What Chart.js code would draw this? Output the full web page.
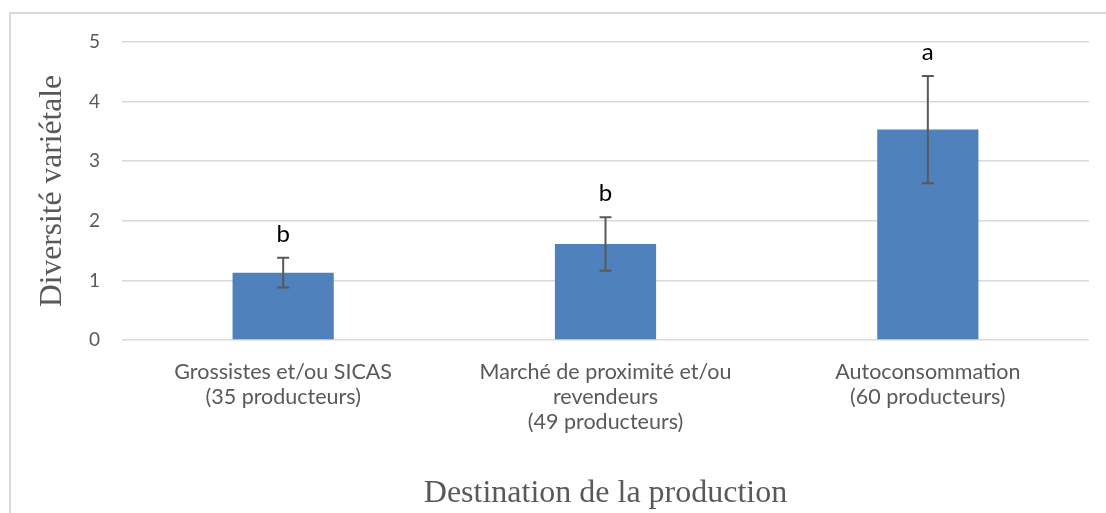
<!DOCTYPE html>
<html>
<head>
<meta charset="utf-8">
<script src="https://cdn.jsdelivr.net/npm/chart.js@4.4.0/dist/chart.umd.min.js"></script>
<style>
  html, body { margin: 0; padding: 0; background: #ffffff; }
  #wrap { position: relative; width: 1106px; height: 513px; overflow: hidden; }
  #frame { position: absolute; left: 9px; top: 12px; right: -10px; bottom: -10px;
           border-left: 2px solid #d9d9d9; border-top: 2px solid #d9d9d9; }
  canvas { position: absolute; left: 0; top: 0; }
</style>
</head>
<body>
<div id="wrap">
  <div id="frame"></div>
  <canvas id="c" width="1106" height="513"></canvas>
</div>
<script>
const categories = [
  ["Grossistes et/ou SICAS", "(35 producteurs)"],
  ["Marché de proximité et/ou", "revendeurs", "(49 producteurs)"],
  ["Autoconsommation", "(60 producteurs)"]
];
const values = [1.13, 1.61, 3.53];
const errors = [0.25, 0.45, 0.90];
const letters = ["b", "b", "a"];
const yTicks = [0, 1, 2, 3, 4, 5];

const gray = "#595959";

const errorBarPlugin = {
  id: "errorBars",
  afterDatasetsDraw(chart) {
    const ctx = chart.ctx;
    const meta = chart.getDatasetMeta(0);
    const y = chart.scales.y;
    ctx.save();
    meta.data.forEach((bar, i) => {
      const x = bar.x;
      const yTop = y.getPixelForValue(values[i] + errors[i]);
      const yBot = y.getPixelForValue(values[i] - errors[i]);
      ctx.strokeStyle = gray;
      ctx.lineWidth = 2;
      ctx.beginPath();
      ctx.moveTo(x, yTop); ctx.lineTo(x, yBot);
      ctx.moveTo(x - 6, yTop); ctx.lineTo(x + 6, yTop);
      ctx.moveTo(x - 6, yBot); ctx.lineTo(x + 6, yBot);
      ctx.stroke();
      ctx.fillStyle = "#000000";
      ctx.font = "24px Lato";
      ctx.textAlign = "center";
      ctx.textBaseline = "alphabetic";
      ctx.fillText(letters[i], x, yTop - 16);
    });
    ctx.restore();
  }
};

new Chart(document.getElementById("c"), {
  type: "bar",
  data: {
    labels: categories,
    datasets: [{
      data: values,
      backgroundColor: "#4F81BD",
      borderWidth: 0,
      categoryPercentage: 1,
      barPercentage: 0.314
    }]
  },
  options: {
    responsive: false,
    animation: false,
    layout: { padding: { top: 42, right: 17, left: 0, bottom: 0 } },
    plugins: { legend: { display: false }, tooltip: { enabled: false } },
    scales: {
      x: {
        grid: { display: false, drawTicks: false },
        border: { display: false },
        ticks: { color: gray, font: { family: "Lato", size: 21.5, lineHeight: 1.17 }, padding: 19, maxRotation: 0 },
        title: { display: true, text: "Destination de la production", color: gray,
                 font: { family: "Liberation Serif", size: 32 }, padding: { top: 0, bottom: 0 } },
        afterFit(s) { s.height = 173; }
      },
      y: {
        min: 0, max: 5,
        afterBuildTicks(s) { s.ticks = yTicks.map(v => ({ value: v })); },
        grid: { color: "#d9d9d9", lineWidth: 1.5, drawTicks: false },
        border: { display: false },
        ticks: { color: gray, font: { family: "Lato", size: 19 }, padding: 22 },
        title: { display: true, text: "Diversité variétale", color: gray,
                 font: { family: "Liberation Serif", size: 31.5 }, padding: { top: 34, bottom: 0 } },
        afterFit(s) { s.width = 122; }
      }
    }
  },
  plugins: [errorBarPlugin]
});
</script>
</body>
</html>
